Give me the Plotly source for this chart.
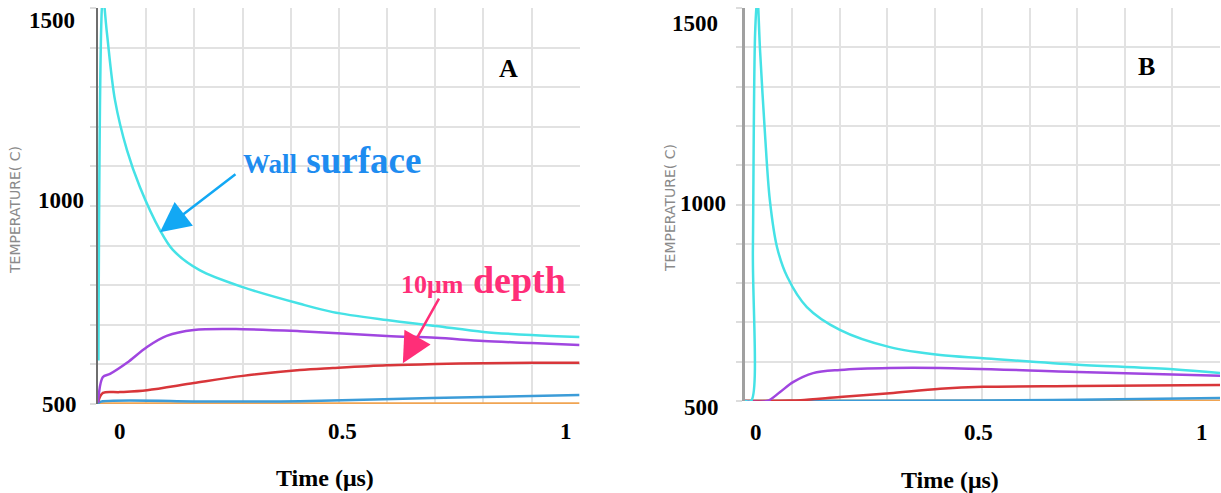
import plotly.graph_objects as go

FW, FH = 1221, 493

# ---------------- Panel A data ----------------
tA_cyan = [-0.048, -0.038, -0.029, -0.011, 0.016, 0.045, 0.090, 0.119, 0.179, 0.276, 0.404, 0.478, 0.599, 0.709, 0.816, 0.924, 1.031]
TA_cyan = [610, 1530, 1437, 1268, 1141, 1048, 939, 889, 838, 795, 753, 732, 712, 697, 682, 674, 669]

tA_purple = [-0.049, -0.038, -0.022, 0.016, 0.061, 0.105, 0.166, 0.276, 0.404, 0.599, 0.709, 0.816, 0.924, 1.031]
TA_purple = [503, 568, 576, 604, 644, 672, 687, 689, 684, 672, 667, 659, 654, 649]

tA_red = [-0.049, -0.038, 0.0, 0.061, 0.166, 0.276, 0.404, 0.478, 0.599, 0.709, 0.816, 0.924, 1.031]
TA_red = [505, 528, 530, 535, 553, 571, 586, 591, 598, 601, 603, 604, 604]

tA_blue = [-0.049, -0.045, 0.2, 0.404, 0.700, 1.031]
TA_blue = [500, 505, 506, 507, 515, 523]

tA_orange = [-0.049, 1.031]
TA_orange = [501, 501]

# ---------------- Panel B data ----------------
tB_cyan = [-0.025, -0.011, -0.007, -0.002, 0.003, 0.009, 0.020, 0.031, 0.047, 0.070, 0.114, 0.188, 0.300, 0.413, 0.509, 0.722, 0.935, 1.043]
TB_cyan = [500, 500, 884, 1436, 1530, 1393, 1182, 1011, 892, 816, 739, 681, 637, 617, 609, 592, 581, 571]

tB_purple = [-0.025, 0.025, 0.054, 0.083, 0.128, 0.188, 0.300, 0.413, 0.722, 1.043]
TB_purple = [500, 500, 523, 548, 571, 579, 584, 584, 574, 564]

tB_red = [-0.025, 0.076, 0.100, 0.188, 0.300, 0.413, 0.509, 0.722, 1.043]
TB_red = [500, 501, 502, 510, 520, 531, 536, 538, 541]

tB_blue = [-0.025, 0.5, 0.722, 1.043]
TB_blue = [500, 501, 503, 508]

tB_orange = [-0.025, 1.043]
TB_orange = [500.5, 500.5]

x_tick_vals = [0, 0.5, 1]
x_tick_text = ["0", "0.5", "1"]
y_tick_text = ["1500", "1000", "500"]
x_title = "Time (μs)"
y_title = "TEMPERATURE( C)"

COL = dict(cyan="#45E2E6", purple="#A046E0", red="#D8363A", blue="#3C9CD8", orange="#F0A452")

fig = go.Figure()

def add_series(t, T, color, xa, ya):
    fig.add_trace(go.Scatter(x=t, y=T, mode="lines",
                             line=dict(color=color, width=2.5, shape="spline", smoothing=0.9),
                             xaxis=xa, yaxis=ya, showlegend=False, hoverinfo="skip"))

for xa, ya, series in [
    ("x", "y", [(tA_orange, TA_orange, "orange"), (tA_blue, TA_blue, "blue"), (tA_red, TA_red, "red"),
                (tA_purple, TA_purple, "purple"), (tA_cyan, TA_cyan, "cyan")]),
    ("x2", "y2", [(tB_orange, TB_orange, "orange"), (tB_blue, TB_blue, "blue"), (tB_red, TB_red, "red"),
                  (tB_purple, TB_purple, "purple"), (tB_cyan, TB_cyan, "cyan")]),
]:
    for t, T, c in series:
        add_series(t, T, COL[c], xa, ya)

def px(x):
    return x / FW

def py(y):
    return (FH - y) / FH

grid = "#E2E2E2"
common_x = dict(showticklabels=False, showgrid=True, gridcolor=grid, gridwidth=1.5, zeroline=False,
                showline=False, ticks="", automargin=False)
common_y = dict(showticklabels=False, showgrid=True, gridcolor=grid, gridwidth=1.5, zeroline=False,
                ticks="outside", ticklen=6, tickcolor="#DDDDDD", tickwidth=1.5, automargin=False,
                range=[500, 1500], tick0=500, dtick=100)

fig.update_layout(
    width=FW, height=FH, margin=dict(l=0, r=0, t=0, b=0),
    paper_bgcolor="white", plot_bgcolor="white",
    xaxis=dict(domain=[px(98), px(580)], range=[-0.049, 1.0325], tick0=-0.049, dtick=0.1081, anchor="y", **common_x),
    yaxis=dict(domain=[py(404), py(8)], anchor="x", showline=True, linecolor="#6E6E6E", linewidth=2, **common_y),
    xaxis2=dict(domain=[px(745), px(1220)], range=[-0.0247, 1.0405], tick0=-0.0247, dtick=0.10645, anchor="y2", **common_x),
    yaxis2=dict(domain=[py(401), py(8)], anchor="x2", showline=True, linecolor="#A0A0A0", linewidth=3, **common_y),
)

serif = "Liberation Serif"
ann = []

# y tick labels (A, B)
for (xr, yc), txt in zip([(77, 20), (86, 200), (79, 404)], y_tick_text):
    ann.append(dict(x=px(xr), y=py(yc), xref="paper", yref="paper", text=f"<b>{txt}</b>", showarrow=False,
                    xanchor="right", yanchor="middle", font=dict(family=serif, size=23, color="black")))
for (xr, yc), txt in zip([(720, 23), (728, 203), (721, 407)], y_tick_text):
    ann.append(dict(x=px(xr), y=py(yc), xref="paper", yref="paper", text=f"<b>{txt}</b>", showarrow=False,
                    xanchor="right", yanchor="middle", font=dict(family=serif, size=23, color="black")))

# x tick labels
for xr, ycen in [("x", 431), ("x2", 432)]:
    for v, txt in zip(x_tick_vals, x_tick_text):
        ann.append(dict(x=v, y=py(ycen), xref=xr, yref="paper", text=f"<b>{txt}</b>", showarrow=False,
                        xanchor="center", yanchor="middle", font=dict(family=serif, size=23, color="black")))

# x titles
for xc, yc in [(325, 478), (950, 480)]:
    ann.append(dict(x=px(xc), y=py(yc), xref="paper", yref="paper", text=f"<b>{x_title}</b>", showarrow=False,
                    xanchor="center", yanchor="middle", font=dict(family=serif, size=24, color="black")))

# y titles
for xc, yc in [(15, 210), (670, 208)]:
    ann.append(dict(x=px(xc), y=py(yc), xref="paper", yref="paper", text=y_title, showarrow=False, textangle=-90,
                    xanchor="center", yanchor="middle", font=dict(family="DejaVu Sans", size=14, color="#8A8A8A")))

# panel letters
for xc, yc, L in [(508, 68, "A"), (1146, 67, "B")]:
    ann.append(dict(x=px(xc), y=py(yc), xref="paper", yref="paper", text=f"<b>{L}</b>", showarrow=False,
                    xanchor="center", yanchor="middle", font=dict(family=serif, size=26, color="black")))

# callout texts
blue_txt = "#1E8CF0"
pink_txt = "#FF2E78"
ann.append(dict(x=px(241), y=py(183), xref="paper", yref="paper",
                text="<b><span style='font-size:27px'>Wall</span> surface</b>", showarrow=False,
                xanchor="left", yanchor="bottom", font=dict(family=serif, size=37, color=blue_txt)))
ann.append(dict(x=px(399), y=py(303), xref="paper", yref="paper",
                text="<b><span style='font-size:26px'>10μm</span> depth</b>", showarrow=False,
                xanchor="left", yanchor="bottom", font=dict(family=serif, size=38, color=pink_txt)))

# arrows
ann.append(dict(x=0.090, y=934, xref="x", yref="y", ax=77, ay=-59, axref="pixel", ayref="pixel", text="",
                showarrow=True, arrowhead=2, arrowwidth=2.5, arrowsize=2.4, arrowcolor="#12A8F4"))
ann.append(dict(x=0.635, y=603, xref="x", yref="y", ax=37, ay=-66, axref="pixel", ayref="pixel", text="",
                showarrow=True, arrowhead=2, arrowwidth=2.5, arrowsize=2.4, arrowcolor="#FF2E78"))

fig.update_layout(annotations=ann)
fig.write_html("out.html", config={"displayModeBar": False},
               post_script="document.body.style.margin='0';document.body.style.overflow='hidden';")
